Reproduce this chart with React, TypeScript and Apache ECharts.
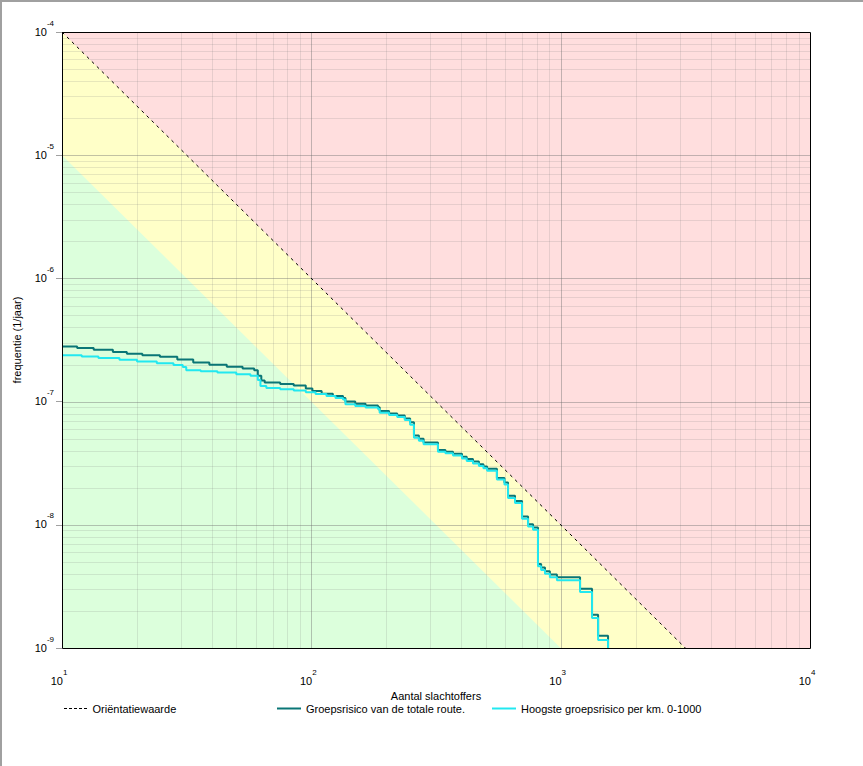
import React, { useEffect, useRef } from 'react';
import * as echarts from 'echarts';

// ---- data ----
const xDecades = [10, 100, 1000];
const yDecades = [1e-9, 1e-8, 1e-7, 1e-6, 1e-5];
const minorMultipliers = [2, 3, 4, 5, 6, 7, 8, 9];
const xMajorLines = [100, 1000];
const yMajorLines = [1e-8, 1e-7, 1e-6, 1e-5];
const xRange = [10, 10000];
const yRange = [1e-9, 1e-4];

const plotCorners = [[10, 1e-4], [10000, 1e-9]];
const orientatieLine = [[10, 1e-4], [3162.28, 1e-9]];
const yellowZone = [[10, 1e-4], [3162.28, 1e-9], [10, 1e-9]];
const greenZone = [[10, 1e-5], [1000, 1e-9], [10, 1e-9]];

const totaleRoute = [
  [10, 2.8e-7], [11.5, 2.72e-7], [13.4, 2.63e-7], [16, 2.53e-7], [18.2, 2.45e-7],
  [21, 2.38e-7], [24.7, 2.31e-7], [29, 2.2e-7], [33.6, 2.08e-7], [39, 1.99e-7],
  [45.8, 1.92e-7], [53, 1.86e-7], [59, 1.8e-7], [61, 1.62e-7], [63, 1.48e-7],
  [65, 1.43e-7], [75, 1.39e-7], [85, 1.35e-7], [95, 1.28e-7], [101, 1.22e-7],
  [110, 1.16e-7], [122, 1.11e-7], [134, 1.07e-7], [137, 1.0e-7], [150, 9.6e-8],
  [165, 9.3e-8], [185, 9.0e-8], [188, 8.4e-8], [205, 8.0e-8], [221, 7.7e-8],
  [237, 7.3e-8], [249, 6.8e-8], [258, 5.3e-8], [270, 5.0e-8], [282, 4.65e-8],
  [322, 4.05e-8], [345, 3.92e-8], [370, 3.78e-8], [402, 3.57e-8], [420, 3.42e-8],
  [445, 3.27e-8], [470, 3.1e-8], [490, 2.98e-8], [507, 2.85e-8], [555, 2.4e-8],
  [595, 2.2e-8], [615, 1.72e-8], [656, 1.56e-8], [700, 1.17e-8], [740, 1.01e-8],
  [775, 9.5e-9], [811, 4.8e-9], [835, 4.5e-9], [865, 4.2e-9], [905, 3.95e-9],
  [966, 3.75e-9], [1196, 3.02e-9], [1336, 1.86e-9], [1413, 1.26e-9], [1549, 1e-9],
];

const hoogstePerKm = [
  [10, 2.38e-7], [12, 2.32e-7], [14, 2.26e-7], [17, 2.19e-7], [20, 2.12e-7],
  [24, 2.05e-7], [28, 1.98e-7], [30.5, 1.91e-7], [31.5, 1.8e-7], [36, 1.76e-7],
  [42, 1.72e-7], [50, 1.67e-7], [57, 1.62e-7], [61, 1.5e-7], [62.5, 1.34e-7],
  [66, 1.29e-7], [75, 1.26e-7], [85, 1.23e-7], [95, 1.19e-7], [104, 1.15e-7],
  [115, 1.11e-7], [125, 1.07e-7], [134, 1.04e-7], [137, 9.5e-8], [150, 9.2e-8],
  [165, 8.95e-8], [185, 8.7e-8], [188, 8.1e-8], [205, 7.8e-8], [221, 7.5e-8],
  [237, 7.1e-8], [249, 6.5e-8], [258, 5.1e-8], [270, 4.8e-8], [282, 4.5e-8],
  [322, 3.92e-8], [345, 3.8e-8], [370, 3.65e-8], [402, 3.45e-8], [420, 3.3e-8],
  [445, 3.15e-8], [470, 3.0e-8], [490, 2.88e-8], [507, 2.75e-8], [555, 2.33e-8],
  [595, 2.12e-8], [615, 1.65e-8], [656, 1.5e-8], [700, 1.12e-8], [740, 9.7e-9],
  [775, 9.1e-9], [811, 4.6e-9], [835, 4.3e-9], [865, 4.0e-9], [905, 3.75e-9],
  [966, 3.55e-9], [1196, 2.85e-9], [1336, 1.75e-9], [1413, 1.16e-9], [1549, 1e-9],
];

const seriesNames = [
  'Oriëntatiewaarde',
  'Groepsrisico van de totale route.',
  'Hoogste groepsrisico per km. 0-1000',
];

const FONT = '"Liberation Sans", Arial, sans-serif';
const DASH_ICON = 'path://M0 0h3v1h-3z M5 0h3v1h-3z M10 0h3v1h-3z M15 0h3v1h-3z M20 0h3v1h-3z';

const xMinorLines: number[] = [];
xDecades.forEach((d) => minorMultipliers.forEach((m) => xMinorLines.push(d * m)));
const yMinorLines: number[] = [];
yDecades.forEach((d) => minorMultipliers.forEach((m) => yMinorLines.push(d * m)));

function polygonSeries(points: number[][], fill: string, z: number) {
  return {
    type: 'custom',
    silent: true,
    z,
    clip: true,
    data: [[10, 1e-9]],
    renderItem: (_p: any, api: any) => ({
      type: 'polygon',
      shape: { points: points.map((p) => api.coord(p)) },
      style: { fill },
    }),
  };
}

const crisp = (v: number) => Math.round(v) + 0.5;

function vLineSeries(xs: number[], color: string, z: number) {
  return {
    type: 'custom',
    silent: true,
    z,
    clip: true,
    data: xs.map((v) => [v, yRange[0]]),
    renderItem: (_p: any, api: any) => {
      const x = api.value(0);
      const a = api.coord([x, yRange[0]]);
      const b = api.coord([x, yRange[1]]);
      const cx = crisp(a[0]);
      return { type: 'line', shape: { x1: cx, y1: a[1], x2: cx, y2: b[1] }, style: { stroke: color, lineWidth: 1 } };
    },
  };
}

function hLineSeries(ys: number[], color: string, z: number) {
  return {
    type: 'custom',
    silent: true,
    z,
    clip: true,
    data: ys.map((v) => [xRange[0], v]),
    renderItem: (_p: any, api: any) => {
      const y = api.value(1);
      const a = api.coord([xRange[0], y]);
      const b = api.coord([xRange[1], y]);
      const cy = crisp(a[1]);
      return { type: 'line', shape: { x1: a[0], y1: cy, x2: b[0], y2: cy }, style: { stroke: color, lineWidth: 1 } };
    },
  };
}

const labelFormatter = (v: number) => {
  const e = Math.round(Math.log10(v));
  return `{b|10}{s|${e}}`;
};
const labelRich = {
  b: { fontSize: 11, fontFamily: FONT, color: '#000', lineHeight: 18, verticalAlign: 'bottom' },
  s: { fontSize: 8, fontFamily: FONT, color: '#000', lineHeight: 8, verticalAlign: 'top' },
};

export default function App() {
  const ref = useRef<HTMLDivElement>(null);
  useEffect(() => {
    if (!ref.current) return;
    const chart = echarts.init(ref.current, null, { renderer: 'svg' });
    const legendCommon = {
      top: 703,
      padding: 0,
      itemWidth: 24,
      itemHeight: 2,
      itemGap: 4,
      textStyle: { fontSize: 11, color: '#000', fontFamily: FONT },
      selectedMode: false,
    };
    chart.setOption({
      animation: false,
      backgroundColor: '#fff',
      grid: {
        left: 62,
        top: 32,
        right: 53,
        bottom: 118,
        show: true,
        backgroundColor: '#ffdede',
        borderWidth: 0,
      },
      legend: [
        { ...legendCommon, left: 64, itemHeight: 1, data: [{ name: seriesNames[0], icon: DASH_ICON }] },
        { ...legendCommon, left: 277, data: [{ name: seriesNames[1], icon: 'rect' }] },
        { ...legendCommon, left: 492, data: [{ name: seriesNames[2], icon: 'rect' }] },
      ],
      xAxis: {
        type: 'log',
        logBase: 10,
        min: xRange[0],
        max: xRange[1],
        name: 'Aantal slachtoffers',
        nameLocation: 'middle',
        nameGap: 40,
        nameTextStyle: { fontSize: 11, color: '#000', fontFamily: FONT },
        axisLine: { show: false },
        axisTick: { show: false },
        splitLine: { show: false },
        axisLabel: {
          margin: 20,
          formatter: labelFormatter,
          rich: labelRich,
          padding: [0, 6, 0, 0],
        },
      },
      yAxis: {
        type: 'log',
        logBase: 10,
        min: yRange[0],
        max: yRange[1],
        name: 'frequentie (1/jaar)',
        nameLocation: 'middle',
        nameGap: 40,
        nameTextStyle: { fontSize: 11, color: '#000', fontFamily: FONT },
        axisLine: { show: false },
        axisTick: { show: true, length: 6, lineStyle: { color: '#a0a0a0' } },
        splitLine: { show: false },
        axisLabel: {
          margin: 8,
          formatter: labelFormatter,
          rich: labelRich,
          padding: [0, 0, 8, 0],
        },
      },
      series: [
        polygonSeries(yellowZone, '#ffffc8', 1),
        polygonSeries(greenZone, '#dcffdc', 1),
        vLineSeries(xMinorLines, 'rgba(120,120,120,0.18)', 2),
        hLineSeries(yMinorLines, 'rgba(120,120,120,0.18)', 2),
        vLineSeries(xMajorLines, 'rgba(110,110,110,0.42)', 2),
        hLineSeries(yMajorLines, 'rgba(110,110,110,0.42)', 2),
        {
          name: seriesNames[0],
          type: 'line',
          z: 3,
          data: orientatieLine,
          symbol: 'none',
          lineStyle: { color: '#000', width: 1, type: [3, 4] },
          itemStyle: { color: '#000' },
        },
        {
          name: seriesNames[1],
          type: 'line',
          z: 4,
          step: 'end',
          data: totaleRoute,
          symbol: 'none',
          lineStyle: { color: '#0a7676', width: 2 },
          itemStyle: { color: '#0a7676' },
        },
        {
          name: seriesNames[2],
          type: 'line',
          z: 5,
          step: 'end',
          data: hoogstePerKm,
          symbol: 'none',
          lineStyle: { color: '#22e8f0', width: 2 },
          itemStyle: { color: '#22e8f0' },
        },
        {
          type: 'custom',
          silent: true,
          z: 6,
          clip: false,
          data: [[10, 1e-9]],
          renderItem: (_p: any, api: any) => {
            const a = api.coord(plotCorners[0]);
            const b = api.coord(plotCorners[1]);
            return {
              type: 'rect',
              shape: { x: crisp(a[0]), y: crisp(a[1]), width: Math.round(b[0] - a[0]), height: Math.round(b[1] - a[1]) },
              style: { fill: 'none', stroke: '#000', lineWidth: 1 },
            };
          },
        },
      ],
    });
    return () => chart.dispose();
  }, []);
  return (
    <div style={{ position: 'fixed', left: 0, top: 0, width: 863, height: 766, background: '#fff' }}>
      <div ref={ref} style={{ position: 'absolute', left: 0, top: 0, width: 863, height: 766 }} />
      <div style={{ position: 'absolute', left: 0, top: 0, width: 863, height: 2, background: '#a0a0a0' }} />
      <div style={{ position: 'absolute', left: 0, top: 0, width: 2, height: 766, background: '#a0a0a0' }} />
    </div>
  );
}
